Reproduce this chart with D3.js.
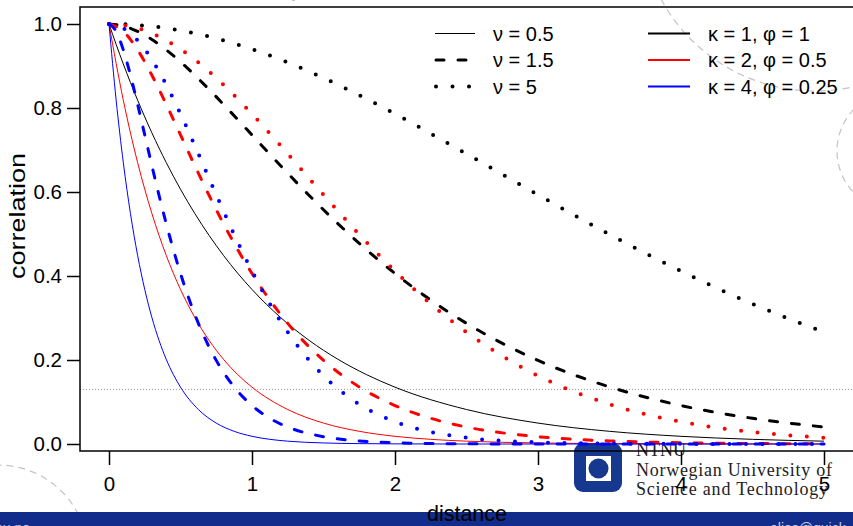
<!DOCTYPE html>
<html lang="en">
<head>
<meta charset="UTF-8">
<title>Matérn correlation</title>
<script src="https://cdn.jsdelivr.net/npm/d3@7"></script>
<style>
  body { margin: 0; background: #fff; overflow: hidden; }
  svg { display: block; font-family: "Liberation Sans", Arial, sans-serif; }
</style>
</head>
<body>
<div id="chart"></div>
<script>
// distances at which each curve was read, one grid per kappa
const distK1 = [0, 0.1, 0.2, 0.3, 0.4, 0.5, 0.6, 0.7, 0.8, 0.9, 1.0, 1.2, 1.4, 1.6, 1.8, 2.0, 2.5, 3.0, 3.5, 4.0, 4.5, 5.0];
const distK2 = [0, 0.1, 0.2, 0.3, 0.4, 0.5, 0.6, 0.7, 0.8, 0.9, 1.0, 1.25, 1.5, 1.75, 2.0, 2.25, 2.5, 3.0, 3.5, 4.0, 4.5, 5.0];
const distK4 = [0, 0.05, 0.1, 0.15, 0.2, 0.25, 0.3, 0.35, 0.4, 0.45, 0.5, 0.625, 0.75, 0.875, 1.0, 1.125, 1.25, 1.5, 1.75, 2.0, 2.25, 2.5, 3.0, 3.5, 4.0, 5.0];

// correlation values, kappa = 1
const k1nu05 = [1, 0.9048, 0.8187, 0.7408, 0.6703, 0.6065, 0.5488, 0.4966, 0.4493, 0.4066, 0.3679, 0.3012, 0.2466, 0.2019, 0.1653, 0.1353, 0.0821, 0.0498, 0.0302, 0.0183, 0.0111, 0.0067];
const k1nu15 = [1, 0.9953, 0.9825, 0.9631, 0.9384, 0.9098, 0.8781, 0.8442, 0.8088, 0.7725, 0.7358, 0.6626, 0.5918, 0.5249, 0.4628, 0.4060, 0.2873, 0.1991, 0.1359, 0.0916, 0.0611, 0.0404];
const k1nu5  = [1, 0.9994, 0.9975, 0.9944, 0.9901, 0.9845, 0.9778, 0.9700, 0.9610, 0.9510, 0.9400, 0.9151, 0.8868, 0.8555, 0.8217, 0.7860, 0.6909, 0.5934, 0.4990, 0.4116, 0.3336, 0.2662];
// kappa = 2
const k2nu05 = [1, 0.8187, 0.6703, 0.5488, 0.4493, 0.3679, 0.3012, 0.2466, 0.2019, 0.1653, 0.1353, 0.0821, 0.0498, 0.0302, 0.0183, 0.0111, 0.0067, 0.0025, 0.0009, 0.0003, 0.0001, 0.0000];
const k2nu15 = [1, 0.9825, 0.9384, 0.8781, 0.8088, 0.7358, 0.6626, 0.5918, 0.5249, 0.4628, 0.4060, 0.2873, 0.1991, 0.1359, 0.0916, 0.0611, 0.0404, 0.0174, 0.0073, 0.0030, 0.0012, 0.0005];
const k2nu5  = [1, 0.9975, 0.9901, 0.9778, 0.9610, 0.9400, 0.9151, 0.8868, 0.8555, 0.8217, 0.7860, 0.6909, 0.5934, 0.4990, 0.4116, 0.3336, 0.2662, 0.1625, 0.0946, 0.0529, 0.0286, 0.0150];
// kappa = 4
const k4nu05 = [1, 0.8187, 0.6703, 0.5488, 0.4493, 0.3679, 0.3012, 0.2466, 0.2019, 0.1653, 0.1353, 0.0821, 0.0498, 0.0302, 0.0183, 0.0111, 0.0067, 0.0025, 0.0009, 0.0003, 0.0001, 0, 0, 0, 0, 0];
const k4nu15 = [1, 0.9825, 0.9384, 0.8781, 0.8088, 0.7358, 0.6626, 0.5918, 0.5249, 0.4628, 0.4060, 0.2873, 0.1991, 0.1359, 0.0916, 0.0611, 0.0404, 0.0174, 0.0073, 0.0030, 0.0012, 0.0005, 0.0001, 0, 0, 0];
const k4nu5  = [1, 0.9975, 0.9901, 0.9778, 0.9610, 0.9400, 0.9151, 0.8868, 0.8555, 0.8217, 0.7860, 0.6909, 0.5934, 0.4990, 0.4116, 0.3336, 0.2662, 0.1625, 0.0946, 0.0529, 0.0286, 0.0150, 0.0040, 0.0010, 0.0003, 0];

const nuLabels = ["ν = 0.5", "ν = 1.5", "ν = 5"];
const kappaLabels = ["κ = 1, φ = 1", "κ = 2, φ = 0.5", "κ = 4, φ = 0.25"];
const xTicks = [0, 1, 2, 3, 4, 5];
const yTicks = [0, 0.2, 0.4, 0.6, 0.8, 1.0];
const rangeLevel = 0.13;

const colors = ["#000000", "#ff0000", "#0000ff"];
const nuStyles = [
  { w: 1, dash: null, cap: "butt" },
  { w: 3, dash: "8 14", cap: "round" },
  { w: 4, dash: "0 16.5", cap: "round" }
];

const series = [
  { dist: distK1, vals: [k1nu05, k1nu15, k1nu5] },
  { dist: distK2, vals: [k2nu05, k2nu15, k2nu5] },
  { dist: distK4, vals: [k4nu05, k4nu15, k4nu5] }
];

const width = 853, height = 526;
const plot = { left: 80, right: 853, top: 7, bottom: 451 };

const svg = d3.select("#chart").append("svg")
  .attr("width", width)
  .attr("height", height);

const x = d3.scaleLinear().domain([0, 5]).range([109, 824]);
const y = d3.scaleLinear().domain([0, 1]).range([444, 24]);

// slide decoration (dashed circles)
const deco = svg.append("g")
  .attr("fill", "none")
  .attr("stroke", "#c4c4c4")
  .attr("stroke-width", 1.2)
  .attr("stroke-dasharray", "7 5");
deco.append("circle").attr("cx", 815).attr("cy", -84).attr("r", 175);
deco.append("circle").attr("cx", 897).attr("cy", 151).attr("r", 60);
deco.append("circle").attr("cx", -2).attr("cy", 555).attr("r", 90);

// footer bar
svg.append("rect")
  .attr("x", 0).attr("y", 512)
  .attr("width", width).attr("height", height - 512)
  .attr("fill", "#112c8a");
svg.append("text")
  .attr("x", 30).attr("y", 533)
  .attr("text-anchor", "end")
  .attr("fill", "#c8cde4")
  .style("font-size", "14px")
  .text("ntnu.no");
svg.append("text")
  .attr("x", 770).attr("y", 533)
  .attr("fill", "#c8cde4")
  .style("font-size", "14px")
  .text("elias@quick");

// header remnant
svg.append("text")
  .attr("x", 135).attr("y", -2)
  .attr("fill", "#b8b8b8")
  .style("font-size", "15px")
  .text("Matérn correlation family");

// NTNU logo
const logo = svg.append("g");
logo.append("rect")
  .attr("x", 574).attr("y", 443)
  .attr("width", 48).attr("height", 49)
  .attr("rx", 9)
  .attr("fill", "#16388f");
logo.append("rect")
  .attr("x", 586).attr("y", 456)
  .attr("width", 25).attr("height", 25)
  .attr("fill", "#fff");
logo.append("circle")
  .attr("cx", 598.5).attr("cy", 468.5).attr("r", 10)
  .attr("fill", "#16388f");
const logoText = logo.append("g")
  .attr("fill", "#222")
  .style("font-family", "'Liberation Serif', 'DejaVu Serif', serif")
  .style("font-size", "18px");
logoText.append("text").attr("x", 636).attr("y", 456).text("NTNU");
logoText.append("text").attr("x", 636).attr("y", 476).attr("textLength", 196).text("Norwegian University of");
logoText.append("text").attr("x", 636).attr("y", 495).attr("textLength", 192).text("Science and Technology");

// reference level
svg.append("line")
  .attr("x1", plot.left).attr("x2", plot.right)
  .attr("y1", y(rangeLevel)).attr("y2", y(rangeLevel))
  .attr("stroke", "#999")
  .attr("stroke-width", 1)
  .attr("stroke-dasharray", "1 2");

// curves
const line = d3.line()
  .x(d => x(d[0]))
  .y(d => y(d[1]))
  .curve(d3.curveMonotoneX);

series.forEach((s, ki) => {
  s.vals.forEach((v, ni) => {
    const st = nuStyles[ni];
    svg.append("path")
      .datum(s.dist.map((d, i) => [d, v[i]]))
      .attr("d", line)
      .attr("fill", "none")
      .attr("stroke", colors[ki])
      .attr("stroke-width", st.w)
      .attr("stroke-linecap", st.cap)
      .attr("stroke-dasharray", st.dash);
  });
});

// frame
svg.append("rect")
  .attr("x", plot.left).attr("y", plot.top)
  .attr("width", plot.right - plot.left + 2)
  .attr("height", plot.bottom - plot.top)
  .attr("fill", "none")
  .attr("stroke", "#000")
  .attr("stroke-width", 1.5);

// axes
const yAxis = svg.append("g")
  .attr("transform", `translate(${plot.left},0)`)
  .call(d3.axisLeft(y).tickValues(yTicks).tickFormat(d3.format(".1f")).tickSize(13).tickPadding(5));
const xAxis = svg.append("g")
  .attr("transform", `translate(0,${plot.bottom})`)
  .call(d3.axisBottom(x).tickValues(xTicks).tickFormat(d3.format("d")).tickSize(14).tickPadding(11));
[yAxis, xAxis].forEach(g => {
  g.select(".domain").remove();
  g.selectAll(".tick line").attr("stroke-width", 1.5);
  g.selectAll(".tick text")
    .attr("fill", "#000")
    .style("font-family", "'Liberation Sans', Arial, sans-serif")
    .style("font-size", "20.5px");
});

// axis titles
svg.append("text")
  .attr("transform", "translate(25,216) rotate(-90)")
  .attr("text-anchor", "middle")
  .attr("textLength", 126)
  .attr("lengthAdjust", "spacingAndGlyphs")
  .style("font-size", "22px")
  .text("correlation");
svg.append("text")
  .attr("x", 467).attr("y", 521)
  .attr("text-anchor", "middle")
  .style("font-size", "21.5px")
  .text("distance");

// legends
const rowY = [33.5, 60, 86.5];
const legNu = svg.append("g");
nuLabels.forEach((lab, i) => {
  const st = nuStyles[i];
  legNu.append("line")
    .attr("x1", st.dash ? 436 : 435).attr("x2", 475)
    .attr("y1", rowY[i]).attr("y2", rowY[i])
    .attr("stroke", "#000")
    .attr("stroke-width", st.w)
    .attr("stroke-linecap", st.cap)
    .attr("stroke-dasharray", st.dash);
  legNu.append("text")
    .attr("x", 493).attr("y", rowY[i] + 7)
    .style("font-size", "20px")
    .text(lab);
});
const legK = svg.append("g");
kappaLabels.forEach((lab, i) => {
  legK.append("line")
    .attr("x1", 648).attr("x2", 690)
    .attr("y1", rowY[i]).attr("y2", rowY[i])
    .attr("stroke", colors[i])
    .attr("stroke-width", 2.2);
  legK.append("text")
    .attr("x", 708).attr("y", rowY[i] + 7)
    .style("font-size", "20px")
    .text(lab);
});
</script>
</body>
</html>
